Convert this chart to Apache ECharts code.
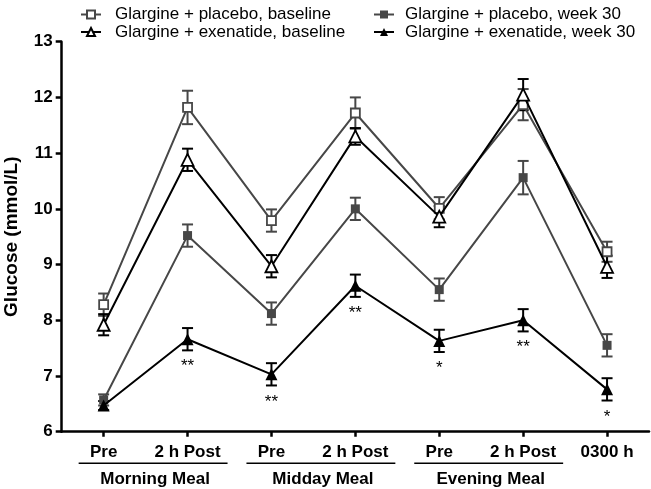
<!DOCTYPE html>
<html>
<head>
<meta charset="utf-8">
<script src="https://cdn.jsdelivr.net/npm/echarts@6/dist/echarts.min.js"></script>
<style>
html,body{margin:0;padding:0;background:#fff;}
#chart{width:651px;height:489px;}
</style>
</head>
<body>
<div id="chart"></div>
<script>
// ---- data ----
const categories = ['Pre', '2 h Post', 'Pre', '2 h Post', 'Pre', '2 h Post', '0300 h'];
const yTicks = [6, 7, 8, 9, 10, 11, 12, 13];

const seriesNames = [
  'Glargine + placebo, baseline',
  'Glargine + placebo, week 30',
  'Glargine + exenatide, baseline',
  'Glargine + exenatide, week 30'
];

const placeboBaseline   = [8.28, 11.82, 9.79, 11.72, 10.01, 11.87, 9.23];
const placeboBaselineSE = [0.2, 0.3, 0.2, 0.28, 0.2, 0.28, 0.18];

const placeboWeek30   = [6.57, 9.52, 8.12, 10.0, 8.55, 10.56, 7.55];
const placeboWeek30SE = [0.1, 0.2, 0.2, 0.2, 0.2, 0.3, 0.2];

const exenatideBaseline   = [7.92, 10.88, 8.97, 11.3, 9.86, 12.05, 8.96];
const exenatideBaselineSE = [0.19, 0.2, 0.2, 0.15, 0.19, 0.28, 0.2];

const exenatideWeek30   = [6.47, 7.66, 7.03, 8.62, 7.63, 8.0, 6.76];
const exenatideWeek30SE = [0.08, 0.2, 0.2, 0.2, 0.2, 0.2, 0.2];
const significance = ['', '**', '**', '**', '*', '**', '*'];

const groupNames = ['Morning Meal', 'Midday Meal', 'Evening Meal'];
const groupStart = [0, 2, 4];
const groupEnd   = [1, 3, 5];

// ---- styles ----
const FONT = 'Liberation Sans, Arial, Helvetica, sans-serif';
const GRAY = '#474747';
const BLACK = '#000000';

const chart = echarts.init(document.getElementById('chart'), null, {renderer: 'canvas'});

function errorSeries(name, values, ses, color, z) {
  return {
    type: 'custom',
    name: name + ' SE',
    z: z,
    silent: true,
    data: values.map((v, i) => [i, v, ses[i]]),
    encode: {x: 0, y: 1},
    renderItem: function (params, api) {
      const x = api.value(0), v = api.value(1), se = api.value(2);
      const top = api.coord([x, v + se]);
      const bot = api.coord([x, v - se]);
      const hw = 5.5;
      const style = {stroke: color, lineWidth: 2, fill: null};
      return {
        type: 'group',
        children: [
          {type: 'line', shape: {x1: top[0], y1: top[1], x2: bot[0], y2: bot[1]}, style: style},
          {type: 'line', shape: {x1: top[0] - hw, y1: top[1], x2: top[0] + hw, y2: top[1]}, style: style},
          {type: 'line', shape: {x1: bot[0] - hw, y1: bot[1], x2: bot[0] + hw, y2: bot[1]}, style: style}
        ]
      };
    }
  };
}

function lineSeries(name, values, color, symbol, size, filled, z) {
  return {
    type: 'line',
    name: name,
    z: z,
    data: values,
    symbol: symbol,
    symbolSize: size,
    showAllSymbol: true,
    lineStyle: {color: color, width: 2},
    itemStyle: {
      color: filled ? color : '#ffffff',
      borderColor: color,
      borderWidth: filled ? 0 : 1.8
    },
    emphasis: {disabled: true},
    animation: false
  };
}

const option = {
  animation: false,
  backgroundColor: '#ffffff',
  textStyle: {fontFamily: FONT},
  grid: {left: 61.7, right: 2, top: 41.7, bottom: 57.3, containLabel: false, outerBoundsMode: 'none'},
  legend: [
    {
      orient: 'vertical',
      left: 75,
      top: 1,
      itemWidth: 20,
      itemHeight: 10,
      itemGap: 0.5,
      data: [seriesNames[0], seriesNames[2]],
      textStyle: {fontFamily: FONT, fontSize: 17, color: '#000', lineHeight: 17, padding: [0, 0, 0, 9]}
    },
    {
      orient: 'vertical',
      left: 368,
      top: 1,
      itemWidth: 20,
      itemHeight: 10,
      itemGap: 0.5,
      data: [seriesNames[1], seriesNames[3]],
      textStyle: {fontFamily: FONT, fontSize: 17, color: '#000', lineHeight: 17, padding: [0, 0, 0, 6]}
    }
  ],
  xAxis: {
    type: 'category',
    data: categories,
    boundaryGap: true,
    axisLine: {show: true, lineStyle: {color: '#000', width: 2.5}},
    axisTick: {show: true, alignWithLabel: true, length: 5, lineStyle: {color: '#000', width: 2.5}},
    axisLabel: {
      interval: 0,
      margin: 12,
      fontFamily: FONT,
      fontSize: 17,
      fontWeight: 'bold',
      color: '#000'
    },
    splitLine: {show: false}
  },
  yAxis: {
    type: 'value',
    min: yTicks[0],
    max: yTicks[yTicks.length - 1],
    interval: 1,
    name: 'Glucose (mmol/L)',
    nameLocation: 'middle',
    nameGap: 40,
    nameTextStyle: {fontFamily: FONT, fontSize: 19, fontWeight: 'bold', color: '#000'},
    axisLine: {show: true, lineStyle: {color: '#000', width: 2.5}},
    axisTick: {show: true, length: 6, lineStyle: {color: '#000', width: 2.5}},
    axisLabel: {margin: 9, fontFamily: FONT, fontSize: 17, fontWeight: 'bold', color: '#000'},
    splitLine: {show: false}
  },
  series: [
    errorSeries(seriesNames[0], placeboBaseline, placeboBaselineSE, GRAY, 1),
    errorSeries(seriesNames[1], placeboWeek30, placeboWeek30SE, GRAY, 1),
    errorSeries(seriesNames[2], exenatideBaseline, exenatideBaselineSE, BLACK, 1),
    errorSeries(seriesNames[3], exenatideWeek30, exenatideWeek30SE, BLACK, 1),
    lineSeries(seriesNames[0], placeboBaseline, GRAY, 'rect', 9, false, 3),
    lineSeries(seriesNames[1], placeboWeek30, GRAY, 'rect', 9, true, 3),
    lineSeries(seriesNames[2], exenatideBaseline, BLACK, 'triangle', 12, false, 4),
    lineSeries(seriesNames[3], exenatideWeek30.map((v, i) => ({
      value: v,
      label: {
        show: significance[i] !== '',
        formatter: significance[i],
        position: 'bottom',
        distance: 13,
        fontFamily: FONT,
        fontSize: 17,
        lineHeight: 17,
        color: '#000'
      }
    })), BLACK, 'triangle', 12, true, 5)
  ]
};

chart.setOption(option);

// group underlines and labels under the category axis, positioned from the axis scale
function addGroups() {
  const graphics = [];
  const axisY = chart.convertToPixel({yAxisIndex: 0}, yTicks[0]);
  for (let g = 0; g < groupNames.length; g++) {
    const x1 = chart.convertToPixel({xAxisIndex: 0}, groupStart[g]);
    const x2 = chart.convertToPixel({xAxisIndex: 0}, groupEnd[g]);
    const left = x1 - 25;
    const right = x2 + 40;
    graphics.push({
      type: 'line',
      silent: true,
      shape: {x1: left, y1: axisY + 31.5, x2: right, y2: axisY + 31.5},
      style: {stroke: '#000', lineWidth: 1.6}
    });
    graphics.push({
      type: 'text',
      silent: true,
      style: {
        x: (left + right) / 2 + 2,
        y: axisY + 48,
        text: groupNames[g],
        fill: '#000',
        font: 'bold 17px ' + FONT,
        textAlign: 'center',
        textVerticalAlign: 'middle'
      }
    });
  }
  chart.setOption({graphic: graphics});
}
addGroups();
</script>
</body>
</html>
